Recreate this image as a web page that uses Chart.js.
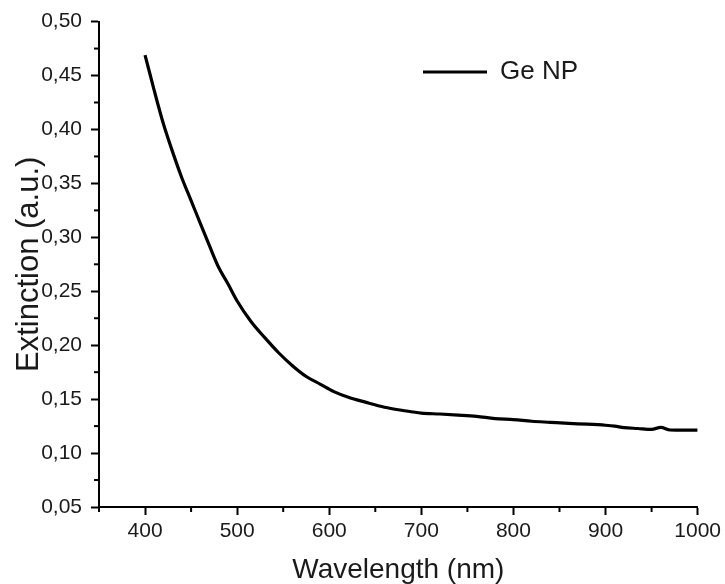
<!DOCTYPE html>
<html>
<head>
<meta charset="utf-8">
<script src="https://cdn.jsdelivr.net/npm/chart.js@4/dist/chart.umd.min.js"></script>
<style>
  html, body { margin: 0; padding: 0; background: #fff; }
  canvas { display: block; }
</style>
</head>
<body>
<canvas id="c" width="725" height="584"></canvas>
<script>
// ---- data ----
const wavelengths = [400, 410, 420, 430, 440, 450, 460, 470, 480, 490, 500, 515, 530, 545, 560, 575, 590, 605, 620, 640, 660, 680, 700, 720, 740, 760, 780, 800, 820, 840, 860, 880, 900, 910, 920, 935, 950, 960, 970, 985, 1000];
const extinction  = [0.469, 0.436, 0.405, 0.379, 0.355, 0.334, 0.313, 0.292, 0.272, 0.257, 0.241, 0.222, 0.207, 0.193, 0.181, 0.171, 0.164, 0.157, 0.152, 0.147, 0.1425, 0.1395, 0.137, 0.1362, 0.1352, 0.134, 0.132, 0.131, 0.1295, 0.1285, 0.1275, 0.1268, 0.1258, 0.125, 0.1236, 0.1228, 0.122, 0.1238, 0.1214, 0.1212, 0.1212];
const seriesName = 'Ge NP';
const xTitle = 'Wavelength (nm)';
const yTitle = 'Extinction (a.u.)';
const xMajorTicks = [400, 500, 600, 700, 800, 900, 1000];
const xMinorTicks = [350, 450, 550, 650, 750, 850, 950];
const yMinorTicks = [0.075, 0.125, 0.175, 0.225, 0.275, 0.325, 0.375, 0.425, 0.475];

const FONT = "'Liberation Sans', Arial, sans-serif";
const TXT = '#1a1a1a';

const points = wavelengths.map((w, i) => ({ x: w, y: extinction[i] }));

const minorTicksPlugin = {
  id: 'minorTicks',
  afterDraw(chart) {
    const { ctx, scales: { x, y } } = chart;
    ctx.save();
    ctx.strokeStyle = '#000';
    ctx.lineWidth = 2;
    xMinorTicks.forEach(v => {
      const px = x.getPixelForValue(v);
      ctx.beginPath(); ctx.moveTo(px, x.top); ctx.lineTo(px, x.top + 5); ctx.stroke();
    });
    yMinorTicks.forEach(v => {
      const py = y.getPixelForValue(v);
      ctx.beginPath(); ctx.moveTo(y.right, py); ctx.lineTo(y.right - 5, py); ctx.stroke();
    });
    ctx.restore();
  }
};

const legendPlace = {
  id: 'legendPlace',
  afterLayout(chart) {
    const lg = chart.legend;
    if (!lg) return;
    const w = lg.width, h = lg.height;
    lg.left = 413; lg.right = lg.left + w;
    lg.top = 49; lg.bottom = lg.top + h;
  }
};

new Chart(document.getElementById('c'), {
  type: 'line',
  data: {
    datasets: [{
      label: seriesName,
      data: points,
      borderColor: '#000',
      backgroundColor: '#000',
      borderWidth: 3.2,
      pointRadius: 0,
      cubicInterpolationMode: 'monotone',
      fill: false
    }]
  },
  plugins: [minorTicksPlugin, legendPlace],
  options: {
    responsive: false,
    animation: false,
    layout: { padding: { left: 0, top: 20, right: 24, bottom: 0 } },
    plugins: {
      legend: {
        position: 'chartArea',
        align: 'start',
        labels: {
          usePointStyle: true,
          pointStyle: 'line',
          pointStyleWidth: 64,
          color: TXT,
          font: { family: FONT, size: 26 },
          padding: 10
        }
      },
      tooltip: { enabled: false }
    },
    scales: {
      x: {
        type: 'linear',
        min: 350,
        max: 1000,
        afterBuildTicks(s) { s.ticks = xMajorTicks.map(v => ({ value: v })); },
        afterFit(s) { s.height = 77; },
        border: { display: true, color: '#000', width: 2 },
        grid: { display: true, drawOnChartArea: false, drawTicks: true, tickLength: 8, tickColor: '#000', tickWidth: 2 },
        ticks: {
          padding: 4,
          color: TXT,
          font: { family: FONT, size: 21 },
          maxRotation: 0,
          callback: v => String(v)
        },
        title: {
          display: true,
          text: xTitle,
          color: TXT,
          font: { family: FONT, size: 28, lineHeight: 1.0 },
          padding: { top: 0, bottom: 0 }
        }
      },
      y: {
        type: 'linear',
        min: 0.05,
        max: 0.5,
        afterFit(s) { s.width = 99; },
        border: { display: true, color: '#000', width: 2 },
        grid: { display: true, drawOnChartArea: false, drawTicks: true, tickLength: 8, tickColor: '#000', tickWidth: 2 },
        ticks: {
          stepSize: 0.05,
          padding: 9,
          color: TXT,
          font: { family: FONT, size: 21 },
          callback: v => v.toFixed(2).replace('.', ',')
        },
        title: {
          display: true,
          text: yTitle,
          color: TXT,
          font: { family: FONT, size: 31, lineHeight: 1.0 },
          padding: { top: 14, bottom: 0 }
        }
      }
    }
  }
});
</script>
</body>
</html>
